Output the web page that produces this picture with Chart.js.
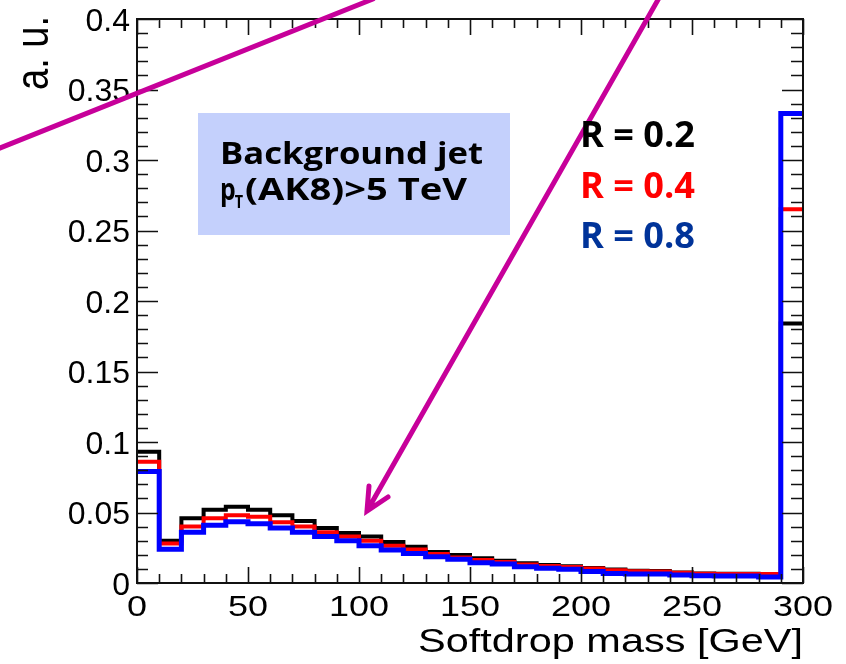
<!DOCTYPE html>
<html>
<head>
<meta charset="utf-8">
<script src="https://cdn.jsdelivr.net/npm/chart.js@4.4.1/dist/chart.umd.min.js"></script>
<style>
  body { margin: 0; background: #fff; }
  #wrap { width: 846px; height: 664px; }
</style>
</head>
<body>
<div id="wrap"><canvas id="grafico" width="846" height="664"></canvas></div>
<script>
// ================= DATOS =================
const binLow = [0, 10, 20, 30, 40, 50, 60, 70, 80, 90, 100, 110, 120, 130, 140,
                150, 160, 170, 180, 190, 200, 210, 220, 230, 240, 250, 260, 270, 280, 290];
const xMax = 300;

const r02 = [0.093, 0.030, 0.046, 0.052, 0.054, 0.052, 0.048, 0.044, 0.039, 0.0355,
             0.033, 0.029, 0.0257, 0.022, 0.0198, 0.0175, 0.0158, 0.014, 0.0127, 0.0118,
             0.0107, 0.0095, 0.0087, 0.0085, 0.0075, 0.0068, 0.0066, 0.0065, 0.0062, 0.184];
const r04 = [0.086, 0.028, 0.040, 0.046, 0.048, 0.047, 0.043, 0.040, 0.036, 0.033,
             0.030, 0.0265, 0.0238, 0.0205, 0.018, 0.0163, 0.0149, 0.0132, 0.012, 0.0113,
             0.0102, 0.0091, 0.0083, 0.0082, 0.0072, 0.0065, 0.0064, 0.0063, 0.0064, 0.265];
const r08 = [0.079, 0.024, 0.036, 0.041, 0.0434, 0.042, 0.039, 0.036, 0.033, 0.030,
             0.0265, 0.0234, 0.021, 0.0186, 0.0168, 0.0144, 0.0135, 0.0115, 0.0104, 0.0097,
             0.0082, 0.0068, 0.0064, 0.0064, 0.0057, 0.0052, 0.005, 0.005, 0.0042, 0.333];

const xTicks = [0, 50, 100, 150, 200, 250, 300];
const xMinorStep = 10;
const yTicks = [0, 0.05, 0.1, 0.15, 0.2, 0.25, 0.3, 0.35, 0.4];
const yTickLabels = ["0", "0.05", "0.1", "0.15", "0.2", "0.25", "0.3", "0.35", "0.4"];
const yMinorStep = 0.01;

const xTitle = "Softdrop mass [GeV]";
const yTitle = "a. u.";
const leyenda = ["R = 0.2", "R = 0.4", "R = 0.8"];
const coloresLeyenda = ["#000000", "#ff0000", "#003399"];

// ================= UTILES =================
function histo(vals) {
  // puntos en el borde izquierdo de cada bin + borde final
  const pts = binLow.map((x, i) => ({ x, y: vals[i] }));
  pts.push({ x: xMax, y: vals[vals.length - 1] });
  return pts;
}

// texto con estiramiento horizontal (o ajustado a un ancho)
function texto(ctx, t, x, y, o) {
  ctx.save();
  ctx.font = o.font;
  ctx.fillStyle = o.color || "#000";
  ctx.textBaseline = o.baseline || "alphabetic";
  let sx = o.sx || 1;
  const w = ctx.measureText(t).width;
  if (o.width) sx = o.width / w;
  let x0 = x;
  if (o.align === "center") x0 = x - w * sx / 2;
  if (o.align === "right") x0 = x - w * sx;
  ctx.translate(x0, y);
  ctx.scale(sx, 1);
  ctx.textAlign = "left";
  ctx.fillText(t, 0, 0);
  ctx.restore();
  return x0 + w * sx;
}

// ================= PLUGIN ESTILO ROOT =================
const marcoRoot = {
  id: "marcoRoot",
  afterDraw(chart) {
    const ctx = chart.ctx;
    const xs = chart.scales.x, ys = chart.scales.y;
    const a = chart.chartArea;

    // marco
    ctx.save();
    ctx.strokeStyle = "#111";
    ctx.lineWidth = 2;
    ctx.strokeRect(a.left, a.top, a.right - a.left, a.bottom - a.top);

    // ticks en X (abajo y arriba, hacia adentro)
    ctx.lineWidth = 1.6;
    ctx.beginPath();
    for (let v = 0; v <= xMax + 0.001; v += xMinorStep) {
      const px = Math.round(xs.getPixelForValue(v)) + 0.5;
      const mayor = xTicks.includes(Math.round(v));
      const L = mayor ? 16 : 9;
      ctx.moveTo(px, a.bottom); ctx.lineTo(px, a.bottom - L);
      ctx.moveTo(px, a.top); ctx.lineTo(px, a.top + L);
    }
    // ticks en Y (izquierda y derecha)
    for (let k = 0; k <= 40; k++) {
      const v = k * yMinorStep;
      const py = Math.round(ys.getPixelForValue(v)) + 0.5;
      const mayor = k % 5 === 0;
      ctx.moveTo(a.left, py); ctx.lineTo(a.left + (mayor ? 21 : 11), py);
      ctx.moveTo(a.right, py); ctx.lineTo(a.right - (mayor ? 21 : 12), py);
    }
    ctx.stroke();
    ctx.restore();

    // etiquetas de ticks
    yTicks.forEach((v, i) => {
      texto(ctx, yTickLabels[i], 130, ys.getPixelForValue(v) + 11.5,
        { font: "32px 'Liberation Sans'", align: "right" });
    });
    xTicks.forEach(v => {
      texto(ctx, String(v), xs.getPixelForValue(v), 616,
        { font: "29px 'Liberation Sans'", align: "center", sx: 1.24 });
    });

    // titulos de ejes
    texto(ctx, xTitle, a.right, 652, { font: "34px 'Liberation Sans'", align: "right", sx: 1.22 });
    ctx.save();
    ctx.translate(48, 90);
    ctx.scale(1.22, 1);
    ctx.rotate(-Math.PI / 2);
    ctx.font = "38px 'Liberation Sans'";
    ctx.fillStyle = "#000";
    ctx.fillText(yTitle, 0, 0);
    ctx.restore();

    // caja de texto
    ctx.save();
    ctx.fillStyle = "#c4d0fc";
    ctx.fillRect(198, 113, 312, 122);
    ctx.restore();
    texto(ctx, "Background jet", 220, 164, { font: "bold 31px 'Open Sans'", width: 263 });
    let xp = texto(ctx, "p", 220, 200, { font: "bold 31px 'Open Sans'", sx: 0.8 });
    texto(ctx, "T", xp - 1, 208, { font: "bold 18px 'Open Sans'", sx: 0.8 });
    texto(ctx, "(AK8)>5 TeV", 245, 200, { font: "bold 31px 'Open Sans'", width: 222 });

    // flechas magenta
    ctx.save();
    ctx.strokeStyle = "#c7009a";
    ctx.lineWidth = 5;
    ctx.lineCap = "round";
    ctx.beginPath();
    ctx.moveTo(-5, 150); ctx.lineTo(373, -1);
    ctx.moveTo(659, -2); ctx.lineTo(367, 511);
    ctx.moveTo(369, 486); ctx.lineTo(367, 511); ctx.lineTo(388, 497);
    ctx.stroke();
    ctx.restore();

    // leyenda
    const bases = [147, 198, 248];
    leyenda.forEach((t, i) => {
      texto(ctx, t, 580, bases[i], { font: "bold 35px 'Open Sans'", color: coloresLeyenda[i], width: 115 });
    });
  }
};

// ================= GRAFICO =================
new Chart(document.getElementById("grafico").getContext("2d"), {
  type: "line",
  data: {
    datasets: [
      { label: leyenda[2], data: histo(r08), borderColor: "#0000ff", borderWidth: 5 },
      { label: leyenda[1], data: histo(r04), borderColor: "#ff0000", borderWidth: 4 },
      { label: leyenda[0], data: histo(r02), borderColor: "#000000", borderWidth: 4 }
    ].map(d => ({ ...d, stepped: "before", pointRadius: 0, fill: false, tension: 0 }))
  },
  options: {
    responsive: false,
    animation: false,
    events: [],
    layout: { padding: { left: 0, right: 43, top: 19, bottom: 0 } },
    plugins: { legend: { display: false }, tooltip: { enabled: false } },
    scales: {
      x: {
        type: "linear", min: 0, max: xMax,
        grid: { display: false }, border: { display: false },
        ticks: { display: false },
        afterFit: s => { s.height = 81; }
      },
      y: {
        min: 0, max: 0.4,
        grid: { display: false }, border: { display: false },
        ticks: { display: false },
        afterFit: s => { s.width = 137; }
      }
    }
  },
  plugins: [marcoRoot]
});
</script>
</body>
</html>
